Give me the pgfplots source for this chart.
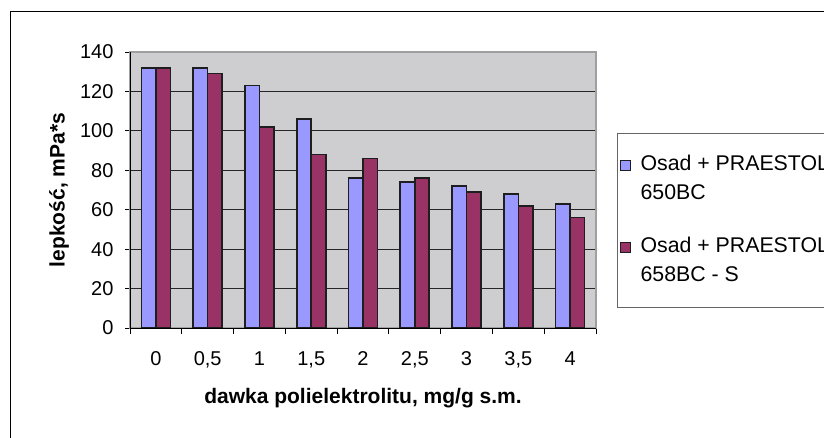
\documentclass[border=0pt]{standalone}
\usepackage{fontspec}
\setmainfont{Liberation Sans}
\usepackage{pgfplots}
\pgfplotsset{compat=1.18}

\definecolor{plotgray}{RGB}{206,206,209}
\definecolor{serA}{RGB}{153,153,255}
\definecolor{serB}{RGB}{153,51,102}
\definecolor{barline}{RGB}{30,30,30}

\begin{document}
\begin{tikzpicture}[x=1pt,y=1pt]
\useasboundingbox (0,0) rectangle (824,437);
\clip (0,0) rectangle (824,437);
\fill[white] (0,0) rectangle (824,437);
% chart frame
\draw[black, line width=1pt] (10,425) -- (10,-20);
\draw[black, line width=1pt] (10,425) -- (840,425);
\begin{axis}[
  at={(130pt,109pt)}, anchor=south west,
  scale only axis, width=466pt, height=276pt,
  ybar=0pt, bar width=14.5pt,
  xmin=-0.5, xmax=8.5, ymin=0, ymax=140,
  xtick={0,...,8},
  xticklabels={0,{0,5},1,{1,5},2,{2,5},3,{3,5},4},
  minor xtick={-0.5,0.5,...,8.5},
  ytick={0,20,...,140},
  tick pos=left, tick align=outside,
  major tick length=5pt, minor tick length=6pt,
  tick style={black, line width=0.8pt},
  major x tick style={draw=none},
  ymajorgrids, grid style={black!85, line width=0.8pt},
  axis background/.style={fill=plotgray},
  axis line style={draw=gray!75, line width=1.5pt},
  /pgf/number format/assume math mode=true,
  ticklabel style={font=\fontsize{20}{24}\selectfont},
  xticklabel style={yshift=-15pt},
  yticklabel style={xshift=-8pt},
  xlabel={dawka polielektrolitu, mg/g s.m.},
  ylabel={lepkość, mPa*s},
  label style={font=\bfseries\fontsize{21}{25}\selectfont},
  xlabel style={at={(axis description cs:0.5,-0.255)}, anchor=center},
  ylabel style={at={(axis description cs:-0.152,0.5)}, anchor=center, rotate=0},
  legend style={at={(axis description cs:1.045,0.7065)}, anchor=north west,
    draw=none, fill=none,
    font=\fontsize{21.3}{29}\selectfont,
    cells={anchor=north west, align=left},
    inner xsep=3pt, inner ysep=5pt, row sep=17pt},
  legend image code/.code={
    \draw[#1, line width=1.2pt] (0pt,-17.5pt) rectangle (10pt,-7.5pt);
    \path (17pt,14pt);},
  after end axis/.code={
    \draw[black, line width=1pt] (rel axis cs:0,0) -- (rel axis cs:0,1);
    \draw[black, line width=1pt] (rel axis cs:0,0) -- (rel axis cs:1,0);
    % legend frame
    \draw[gray!80!black, line width=0.8pt]
      (axis description cs:1.045,0.7065) rectangle (axis description cs:1.6,0.0761);
  },
]
\addplot[fill=serA, draw=barline, line width=1.6pt] coordinates {
  (0,132) (1,132) (2,123) (3,106) (4,76) (5,74) (6,72) (7,68) (8,63)};
\addplot[fill=serB, draw=barline, line width=1.6pt] coordinates {
  (0,132) (1,129) (2,102) (3,88) (4,86) (5,76) (6,69) (7,62) (8,56)};
\legend{{Osad + PRAESTOL\\650BC},{Osad + PRAESTOL\\658BC - S}}
\end{axis}
\end{tikzpicture}
\end{document}
